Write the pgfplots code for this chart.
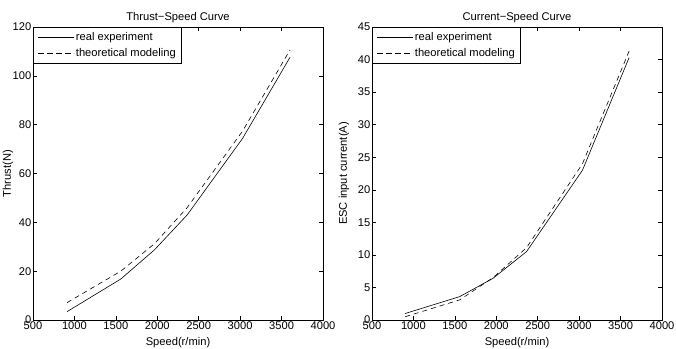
\documentclass[border=0pt]{standalone}
\usepackage{pgfplots}
\pgfplotsset{compat=1.18}
\usepackage{fontspec}
\setmainfont{Liberation Sans}
\begin{document}
\begin{tikzpicture}[x=1bp,y=1bp]
\useasboundingbox (0,0) rectangle (676,348);
\pgfplotsset{
  myax/.style={
    scale only axis, width=290bp, height=293bp,
    anchor=south west,
    xmin=500, xmax=4000, xtick={500,1000,...,4000},
    tick align=inside, tick pos=both,
    major tick length=4bp,
    axis line style={line width=0.8pt},
    every tick/.style={line width=0.5pt, black},
    /pgf/number format/assume math mode=true,
    /pgf/number format/1000 sep={},
    tick label style={font=\fontsize{11.2}{13}\selectfont},
    xticklabel style={inner sep=1.5bp},
    yticklabel style={inner sep=1.5bp},
    label style={font=\fontsize{11.2}{13}\selectfont},
    every axis title shift=0pt,
    title style={font=\fontsize{11.2}{13}\selectfont, at={(axis description cs:0.5,1)}, anchor=south, yshift=1bp},
    xlabel={Speed(r/min)},
    xlabel style={at={(axis description cs:0.5,-0.0785)}, anchor=center},
    legend cell align=left,
    legend style={at={(0,1)}, anchor=north west, draw=black, line width=0.6pt,
      font=\fontsize{11.2}{13}\selectfont, inner xsep=4bp, inner ysep=3bp, row sep=3bp,
      nodes={inner sep=2bp},
      legend image code/.code={\draw[##1, line width=0.5pt] (1bp,0bp) -- (33bp,0bp); \path (0bp,0bp) -- (36bp,0bp);}},
    every axis plot/.append style={line width=0.6pt, black},
    clip=false,
  }
}
\begin{axis}[myax, at={(33bp,28bp)},
  ymin=0, ymax=120, ytick={0,20,...,120},
  ylabel={Thrust(N)},
  ylabel style={at={(axis description cs:-0.086,0.5)}, rotate=0, anchor=center},
  title={Thrust\textminus Speed Curve}]
\addplot[solid] coordinates {(910,3.4) (1560,16.8) (1965,28.7) (2360,43) (3030,74.4) (3602,107.6)};
\addplot[dash pattern=on 5bp off 4bp] coordinates {(910,7.1) (1560,20) (1965,31.2) (2360,46) (3030,77.4) (3602,110.6)};
\legend{real experiment, theoretical modeling}
\end{axis}
\begin{axis}[myax, at={(372bp,28bp)},
  ymin=0, ymax=45, ytick={0,5,...,45},
  ylabel={ESC input current(A)},
  ylabel style={at={(axis description cs:-0.097,0.5)}, rotate=0, anchor=center},
  title={Current\textminus Speed Curve}]
\addplot[solid] coordinates {(900,1.0) (1560,3.6) (1960,6.4) (2365,10.5) (3040,23.0) (3603,40.3)};
\addplot[dash pattern=on 5bp off 4bp] coordinates {(900,0.5) (1560,3.1) (1960,6.5) (2365,11.1) (3040,24.0) (3603,41.3)};
\legend{real experiment, theoretical modeling}
\end{axis}
\end{tikzpicture}
\end{document}
